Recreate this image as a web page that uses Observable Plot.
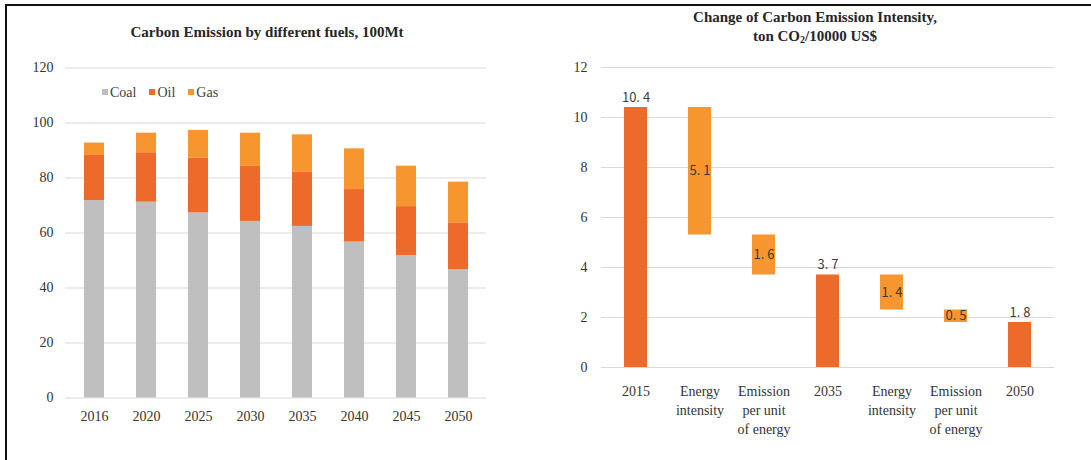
<!DOCTYPE html>
<html>
<head>
<meta charset="utf-8">
<script src="https://cdn.jsdelivr.net/npm/d3@7"></script>
<script src="https://cdn.jsdelivr.net/npm/@observablehq/plot@0.6"></script>
<style>
  html, body { margin: 0; padding: 0; background: #fff; overflow: hidden; }
  #root { position: relative; width: 1091px; height: 460px; overflow: hidden; background: #fff; font-family: "Liberation Serif", "Times New Roman", serif; }
  #frame { position: absolute; left: 5px; top: 4px; width: 1100px; height: 470px; border-top: 2px solid #111; border-left: 2px solid #111; pointer-events: none; }
  .panel { position: absolute; top: 0; }
  .title { position: absolute; font-weight: bold; font-size: 15px; line-height: 19px; color: #262626; text-align: center; white-space: nowrap; transform: translateX(-50%); }
  .legend { position: absolute; left: 102px; top: 85px; font-size: 14px; line-height: 16px; color: #404040; white-space: nowrap; }
  .legend span.item { display: inline-block; margin-right: 13px; }
  .legend span.sw { display: inline-block; width: 6px; height: 6px; margin-right: 2px; vertical-align: 2px; }
</style>
</head>
<body>
<div id="root">
  <div id="left" class="panel" style="left:0px"></div>
  <div id="right" class="panel" style="left:545px"></div>
  <div class="title" style="left:267px; top:23px;">Carbon Emission by different fuels, 100Mt</div>
  <div class="title" style="left:815px; top:8px;">Change of Carbon Emission Intensity,<br>ton CO<sub style="font-size:10px;line-height:0;vertical-align:-2px">2</sub>/10000 US$</div>
  <div id="legend" class="legend"></div>
  <div id="frame"></div>
</div>
<script>
// ---------- Left chart data ----------
const years = ["2016", "2020", "2025", "2030", "2035", "2040", "2045", "2050"];
const fuels = ["Coal", "Oil", "Gas"];
const coal = [71.8, 71.2, 67.3, 64.2, 62.4, 56.7, 51.8, 46.7];
const oil  = [16.4, 18.0, 19.9, 20.0, 19.7, 19.1, 17.8, 17.0];
const gas  = [4.5, 7.1, 10.1, 12.1, 13.6, 14.8, 14.7, 14.8];
const leftTicks = [0, 20, 40, 60, 80, 100, 120];
const fuelColors = ["#bfbfbf", "#ee6a2a", "#f7952f"];

// ---------- Right chart data ----------
const stepLabels = ["2015", "Energy\nintensity", "Emission\nper unit\nof energy", "2035", "Energy\nintensity", "Emission\nper unit\nof energy", "2050"];
const stepKinds  = ["total", "change", "change", "total", "change", "change", "total"];
const stepValues = [10.4, -5.1, -1.6, 3.7, -1.4, -0.5, 1.8];
const rightTicks = [0, 2, 4, 6, 8, 10, 12];
const kindColors = ["#ee6a2a", "#f7952f"];

// ---------- Left chart ----------
const series = [coal, oil, gas];
const leftRows = [];
years.forEach((y, i) => fuels.forEach((f, j) => leftRows.push({year: y, fuel: f, value: series[j][i]})));

const left = Plot.plot({
  width: 545, height: 460,
  marginLeft: 65, marginRight: 59, marginTop: 67.5, marginBottom: 62.5,
  style: {fontFamily: '"Liberation Serif", "Times New Roman", serif', fontSize: "14px", color: "#333333", background: "transparent"},
  x: {type: "band", domain: years, paddingInner: 0.62, paddingOuter: 0.31, label: null},
  y: {domain: [0, 120], ticks: leftTicks, label: null},
  color: {domain: fuels, range: fuelColors},
  marks: [
    Plot.gridY(leftTicks, {stroke: "#d9d9d9", strokeOpacity: 1, strokeWidth: 1}),
    Plot.axisY(leftTicks, {tickSize: 0, tickPadding: 12, fontSize: 14, label: null}),
    Plot.axisX({tickSize: 0, tickPadding: 13, fontSize: 14, label: null}),
    Plot.barY(leftRows, Plot.stackY({order: fuels, x: "year", y: "value", fill: "fuel"}))
  ]
});
document.getElementById("left").appendChild(left);

// legend
const legend = document.getElementById("legend");
fuels.forEach((f, j) => {
  const item = document.createElement("span");
  item.className = "item";
  const sw = document.createElement("span");
  sw.className = "sw";
  sw.style.background = fuelColors[j];
  item.appendChild(sw);
  item.appendChild(document.createTextNode(f));
  legend.appendChild(item);
});

// ---------- Right chart (waterfall) ----------
let level = 0;
const steps = stepValues.map((v, i) => {
  let y1, y2;
  if (stepKinds[i] === "total") { y1 = 0; y2 = v; level = v; }
  else { y2 = level; y1 = level + v; level = level + v; }
  return {key: String(i), kind: stepKinds[i], value: v, y1, y2,
          label: d3.format(".1f")(Math.abs(v)).replace(".", ". ")};
});
const totals = steps.filter(d => d.kind === "total");
const changes = steps.filter(d => d.kind === "change");

const right = Plot.plot({
  width: 546, height: 460,
  marginLeft: 56, marginRight: 37, marginTop: 67, marginBottom: 93,
  style: {fontFamily: '"Liberation Serif", "Times New Roman", serif', fontSize: "14px", color: "#333333", background: "transparent"},
  x: {type: "band", domain: steps.map(d => d.key), paddingInner: 0.645, paddingOuter: 0.3225, label: null},
  y: {domain: [0, 12], ticks: rightTicks, label: null},
  color: {domain: ["total", "change"], range: kindColors},
  marks: [
    Plot.gridY(rightTicks, {stroke: "#d9d9d9", strokeOpacity: 1, strokeWidth: 1}),
    Plot.axisY(rightTicks, {tickSize: 0, tickPadding: 14, fontSize: 14, label: null}),
    Plot.axisX({tickSize: 0, tickPadding: 15, fontSize: 14, lineHeight: 1.36, label: null, tickFormat: k => stepLabels[+k]}),
    Plot.barY(steps, {x: "key", y1: "y1", y2: "y2", fill: "kind"}),
    Plot.text(totals, {x: "key", y: "y2", text: "label", dy: -10, fill: "#404040",
      fontFamily: '"Noto Sans CJK SC", "Noto Sans", sans-serif', fontSize: 13}),
    Plot.text(changes, {x: "key", y: d => (d.y1 + d.y2) / 2, text: "label", fill: "#3a3a3a",
      fontFamily: '"Noto Sans CJK SC", "Noto Sans", sans-serif', fontSize: 13})
  ]
});
document.getElementById("right").appendChild(right);
</script>
</body>
</html>
